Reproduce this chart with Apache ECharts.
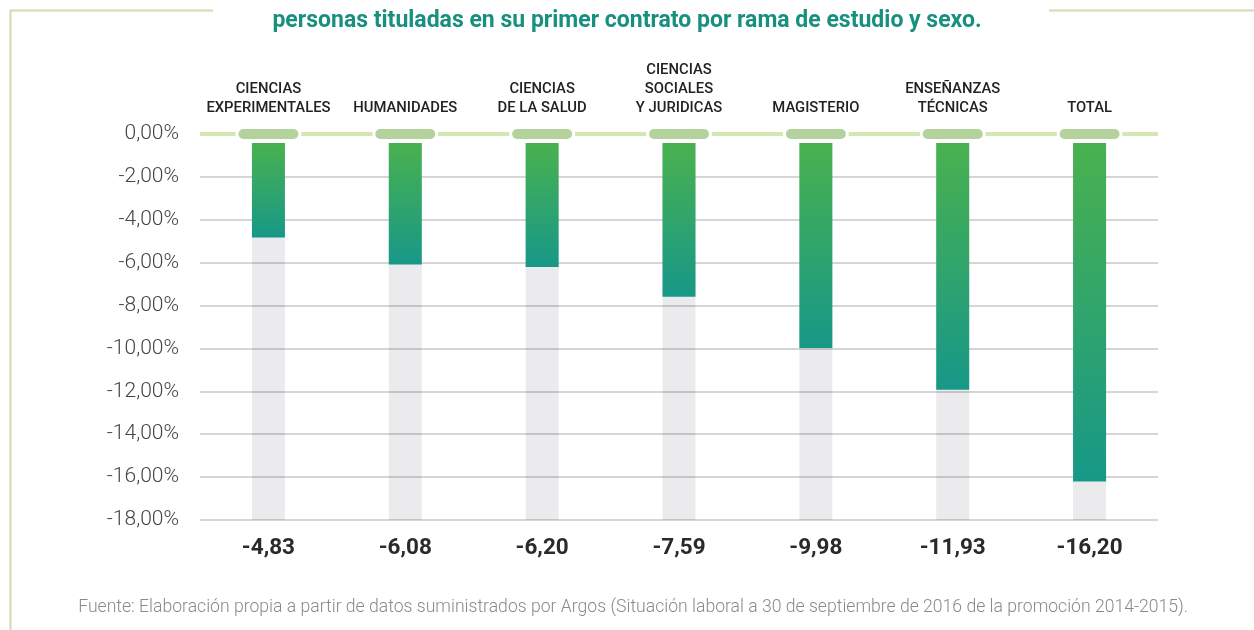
<!DOCTYPE html>
<html>
<head>
<meta charset="utf-8">
<script src="https://cdn.jsdelivr.net/npm/echarts@6/dist/echarts.min.js"></script>
<style>
html,body{margin:0;padding:0;background:#fff;}
#main{width:1254px;height:630px;}
</style>
</head>
<body>
<div id="main"></div>
<script>
// categorias (eje superior) y valores (%)
var ramas = ['CIENCIAS\nEXPERIMENTALES', 'HUMANIDADES', 'CIENCIAS\nDE LA SALUD',
	'CIENCIAS\nSOCIALES\nY JURIDICAS', 'MAGISTERIO', 'ENSEÑANZAS\nTÉCNICAS', 'TOTAL'];
var valores = [-4.83, -6.08, -6.20, -7.59, -9.98, -11.93, -16.20];
var yMin = -18, yMax = 0, yPaso = 2;

function fmtNum(v){
	return v.toFixed(2).replace('.', ',');
}
var etiquetasValor = valores.map(fmtNum);

var chart = echarts.init(document.getElementById('main'));

var gris = 'rgba(0,0,0,0.22)';
var option = {
	backgroundColor: '#fff',
	animation: false,
	title: {
		text: 'personas tituladas en su primer contrato por rama de estudio y sexo.',
		left: 'center',
		top: 5,
		textStyle: {
			color: '#17907f',
			fontFamily: 'Roboto, sans-serif',
			fontWeight: 'bold',
			fontSize: 23
		}
	},
	graphic: [
		{type: 'polyline', silent: true, shape: {points: [[213, 10.5], [10.5, 10.5], [10.5, 630]]},
			style: {stroke: '#cfdcad', lineWidth: 2, fill: null}},
		{type: 'line', silent: true, shape: {x1: 1049, y1: 10.5, x2: 1254, y2: 10.5},
			style: {stroke: '#cfdcad', lineWidth: 2}},
		{type: 'text', right: 66, top: 599,
			style: {
				text: 'Fuente: Elaboración propia a partir de datos suministrados por Argos (Situación laboral a 30 de septiembre de 2016 de la promoción 2014-2015).',
				fill: '#8a8a8a',
				font: '300 17.6px Roboto, sans-serif'
			}}
	],
	grid: {left: 200, right: 96, top: 134, bottom: 110},
	xAxis: [{
		type: 'category',
		position: 'top',
		data: ramas,
		axisLine: {show: false},
		axisTick: {show: false},
		axisLabel: {
			margin: 16,
			color: '#222',
			fontFamily: 'Roboto, sans-serif',
			fontWeight: 500,
			fontSize: 14.8,
			lineHeight: 19,
			interval: 0
		}
	}, {
		type: 'category',
		position: 'bottom',
		data: etiquetasValor,
		axisLine: {show: false},
		axisTick: {show: false},
		axisLabel: {
			margin: 17,
			color: '#2a2a2a',
			fontFamily: 'Roboto, sans-serif',
			fontWeight: 'bold',
			fontSize: 22.5,
			interval: 0
		}
	}],
	yAxis: {
		type: 'value',
		min: yMin,
		max: yMax,
		interval: yPaso,
		axisLine: {show: false},
		axisTick: {show: false},
		axisLabel: {
			margin: 21,
			color: '#444',
			fontFamily: 'Roboto, sans-serif',
			fontWeight: 300,
			fontSize: 21,
			formatter: function(v){ return fmtNum(v) + '%'; }
		},
		splitLine: {
			lineStyle: {
				color: [gris, gris, gris, gris, gris, gris, gris, gris, gris, 'transparent'],
				width: 1.5
			}
		}
	},
	series: [{
		// fondo gris de cada barra + linea del cero
		type: 'custom',
		z: -1,
		silent: true,
		data: valores.map(function(v, i){ return [i, v]; }),
		renderItem: function(params, api){
			var top = api.coord([api.value(0), 0]);
			var bot = api.coord([api.value(0), yMin]);
			var w = 33;
			return {
				type: 'rect',
				shape: {x: top[0] - w / 2, y: top[1] + 9, width: w, height: bot[1] - top[1] - 9},
				style: {fill: '#ebebed'}
			};
		},
		markLine: {
			silent: true,
			symbol: 'none',
			label: {show: false},
			lineStyle: {color: '#d3e7b3', width: 4, type: 'solid'},
			data: [{yAxis: 0}]
		}
	}, {
		type: 'custom',
		silent: true,
		z: 5,
		data: valores.map(function(v, i){ return [i, v]; }),
		renderItem: function(params, api){
			var top = api.coord([api.value(0), 0]);
			var end = api.coord([api.value(0), api.value(1)]);
			var w = 33;
			return {
				type: 'group',
				children: [{
					type: 'rect',
					shape: {x: top[0] - w / 2, y: top[1] + 9, width: w, height: end[1] - top[1] - 9},
					style: {
						fill: new echarts.graphic.LinearGradient(0, 0, 0, 1, [
							{offset: 0, color: '#49b14f'},
							{offset: 1, color: '#179888'}
						])
					}
				}, {
					// hueco blanco alrededor de la pastilla
					type: 'rect',
					shape: {x: top[0] - 33, y: top[1] - 7, width: 66, height: 14, r: 7},
					style: {fill: '#fff'}
				}, {
					type: 'rect',
					z2: 10,
					shape: {x: top[0] - 30, y: top[1] - 5, width: 60, height: 10, r: 5},
					style: {fill: '#b4d39c'}
				}]
			};
		}
	}]
};
chart.setOption(option);
</script>
</body>
</html>
